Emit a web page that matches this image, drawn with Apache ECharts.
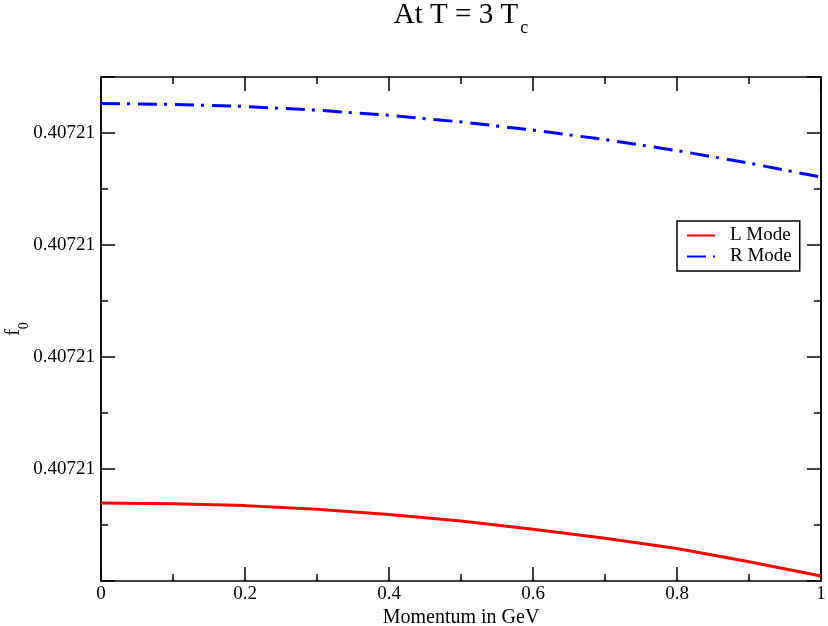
<!DOCTYPE html>
<html>
<head>
<meta charset="utf-8">
<script src="https://cdn.jsdelivr.net/npm/echarts@6/dist/echarts.min.js"></script>
<style>
  html, body { margin: 0; padding: 0; background: #fff; }
  #chart { width: 828px; height: 626px; }
</style>
</head>
<body>
<div id="chart"></div>
<script>
// values; f0 is kept as steps above the lowest tick,
// the real tick labels all print as 0.40721
const momentum = [0, 0.1, 0.2, 0.3, 0.4, 0.5, 0.6, 0.7, 0.8, 0.9, 1.0]
const lMode = [0.697, 0.690, 0.673, 0.640, 0.594, 0.536, 0.463, 0.381, 0.290, 0.172, 0.045]
const rMode = [4.263, 4.256, 4.237, 4.204, 4.158, 4.099, 4.026, 3.941, 3.843, 3.731, 3.606]
const yTickLabels = ['', '0.40721', '0.40721', '0.40721', '0.40721']

const FONT = 'Liberation Serif'
const BLACK = '#000'

const chart = echarts.init(document.getElementById('chart'), null, { renderer: 'canvas' })

const axisLine = { show: true, onZero: false, lineStyle: { color: BLACK, width: 1.5 } }

function xAxis(position, showLabel) {
  return {
    type: 'value',
    position,
    min: 0,
    max: 1,
    interval: 0.2,
    axisLine,
    axisTick: { show: true, inside: true, length: 14, lineStyle: { color: BLACK, width: 1.5 } },
    minorTick: { show: true, splitNumber: 2, length: 7, lineStyle: { color: BLACK, width: 1.5 } },
    splitLine: { show: false },
    minorSplitLine: { show: false },
    axisLabel: {
      show: showLabel,
      color: BLACK,
      fontFamily: FONT,
      fontSize: 19,
      margin: 4,
    },
    name: showLabel ? 'Momentum in GeV' : '',
    nameLocation: 'middle',
    nameGap: 27,
    nameMoveOverlap: false,
    nameTextStyle: { color: BLACK, fontFamily: FONT, fontSize: 20 },
  }
}

// major and minor y ticks on separate axes so no minor tick lands in the top half-step
function yAxis(position, step, tickLen, showLabel) {
  return {
    type: 'value',
    position,
    min: 0,
    max: 4.5,
    interval: step,
    axisLine,
    axisTick: { show: true, inside: true, length: tickLen, lineStyle: { color: BLACK, width: 1.5 } },
    splitLine: { show: false },
    axisLabel: {
      show: showLabel,
      color: BLACK,
      fontFamily: FONT,
      fontSize: 19,
      margin: 6,
      formatter(v) {
        return yTickLabels[v] || ''
      },
    },
    name: showLabel ? '{f|f}{s|0}' : '',
    nameLocation: 'middle',
    nameGap: 75,
    nameMoveOverlap: false,
    nameTextStyle: {
      color: BLACK,
      fontFamily: FONT,
      rich: {
        f: { fontFamily: FONT, fontSize: 20, lineHeight: 22, verticalAlign: 'top', color: BLACK },
        s: { fontFamily: FONT, fontSize: 14, lineHeight: 16, padding: [13, 0, 0, 0], verticalAlign: 'top', color: BLACK },
      },
    },
  }
}

const option = {
  animation: false,
  backgroundColor: '#fff',
  title: {
    text: '{m|At T = 3 T}{s|c}',
    left: 461,
    top: 1,
    padding: 0,
    textAlign: 'center',
    textStyle: {
      fontWeight: 'normal',
      rich: {
        m: { fontFamily: FONT, fontSize: 29, fontWeight: 'normal', lineHeight: 24, verticalAlign: 'top', color: BLACK },
        s: { fontFamily: FONT, fontSize: 18, fontWeight: 'normal', lineHeight: 18, padding: [18, 0, 0, 2], verticalAlign: 'top', color: BLACK },
      },
    },
  },
  grid: { left: 101, right: 7, top: 77, bottom: 45, containLabel: false, outerBoundsMode: 'none' },
  legend: {
    left: 677,
    top: 221,
    orient: 'vertical',
    backgroundColor: '#fff',
    borderColor: BLACK,
    borderWidth: 1.5,
    borderRadius: 0,
    padding: [5, 8, 5, 9],
    itemWidth: 28,
    itemHeight: 14,
    itemGap: 2,
    itemStyle: { opacity: 0 },
    textStyle: { color: BLACK, fontFamily: FONT, fontSize: 19, padding: [0, 0, 0, 10] },
    data: ['L Mode', 'R Mode'],
  },
  xAxis: [xAxis('bottom', true), xAxis('top', false)],
  yAxis: [
    yAxis('left', 1, 14, true),
    yAxis('left', 0.5, 7, false),
    yAxis('right', 1, 14, false),
    yAxis('right', 0.5, 7, false),
  ],
  series: [
    {
      name: 'L Mode',
      type: 'line',
      symbol: 'none',
      lineStyle: { color: '#ff0000', width: 3 },
      itemStyle: { color: '#ff0000' },
      data: momentum.map((p, i) => [p, lMode[i]]),
    },
    {
      name: 'R Mode',
      type: 'line',
      symbol: 'none',
      lineStyle: { color: '#0000ff', width: 3, type: [19, 7, 3, 8], cap: 'butt' },
      itemStyle: { color: '#0000ff' },
      data: momentum.map((p, i) => [p, rMode[i]]),
    },
  ],
}

chart.setOption(option)
</script>
</body>
</html>
